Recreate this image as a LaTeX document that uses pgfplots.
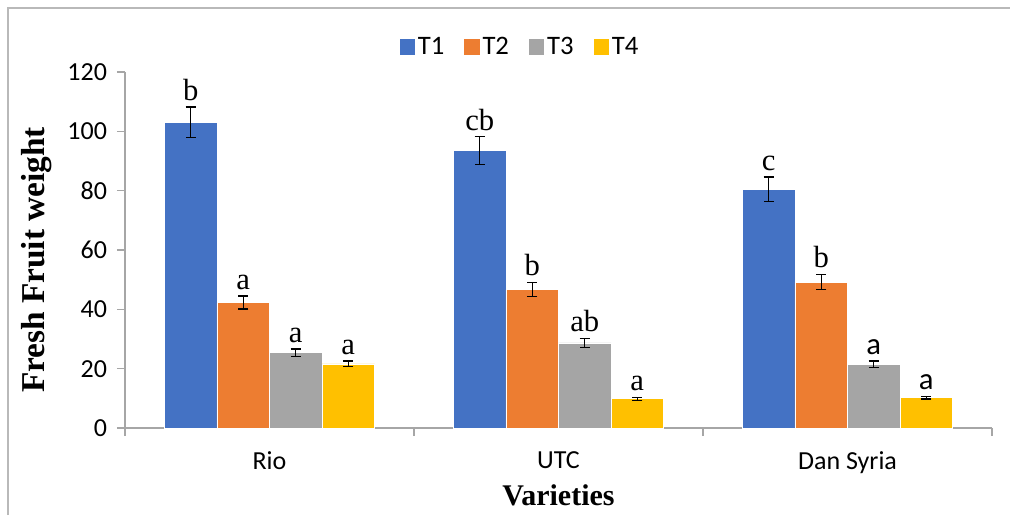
\documentclass[border=0pt]{standalone}
\usepackage{fontspec}
\setmainfont{Carlito}
\newfontfamily\tnr{Liberation Serif}
\newfontfamily\carlito{Carlito}
\usepackage{pgfplots}
\usepackage{pgfplotstable}
\pgfplotsset{compat=1.18}
\definecolor{cT1}{HTML}{4472C4}
\definecolor{cT2}{HTML}{ED7D31}
\definecolor{cT3}{HTML}{A5A5A5}
\definecolor{cT4}{HTML}{FFC000}
\definecolor{axgray}{HTML}{A6A6A6}
\newcommand{\sa}{{\carlito a}}
\pgfplotstableread{
x y err lab
0 103.0 5.2 b
1 93.5 4.7 cb
2 80.5 4.1 c
}\tA
\pgfplotstableread{
x y err lab
0 42.3 2.2 a
1 46.7 2.35 b
2 49.2 2.5 b
}\tB
\pgfplotstableread{
x y err lab
0 25.4 1.25 a
1 28.7 1.5 ab
2 21.5 1.1 \sa
}\tC
\pgfplotstableread{
x y err lab
0 21.6 1.0 a
1 9.9 0.5 a
2 10.2 0.45 \sa
}\tD
\pgfplotsset{
  mybar/.style={fill=#1, draw=white, line width=0.4pt,
    error bars/.cd, y dir=both, y explicit,
    error bar style={black, line width=0.9pt},
    error mark options={rotate=90, mark size=3.8pt, line width=0.9pt, black},
  },
  mylab/.style={forget plot, draw=none, fill=none, bar shift=#1,
    point meta=explicit symbolic, nodes near coords,
    nodes near coords style={anchor=base, yshift=5pt, font=\tnr\fontsize{23}{24}\selectfont, black, inner sep=0pt}},
}
\begin{document}
\begin{tikzpicture}
\useasboundingbox (0,0) rectangle (757.5pt,386.25pt);
\draw[gray!55, line width=0.8pt] (6pt,0pt) -- (6pt,380.25pt) -- (757.5pt,380.25pt);
\begin{axis}[
  at={(93.75pt,65.25pt)}, anchor=south west,
  scale only axis, width=650.25pt, height=267pt,
  ybar=0pt, bar width=0.1817,
  xmin=-0.5, xmax=2.5, ymin=0, ymax=120,
  axis x line=bottom, axis y line=left,
  axis line style={axgray, line width=0.8pt, -},
  xtick={0,1,2}, xticklabels={Rio,UTC,Dan Syria},
  major x tick style={draw=none},
  minor xtick={-0.5,0.5,1.5,2.5},
  minor x tick style={axgray, line width=0.8pt},
  minor tick length=6pt,
  ytick={0,20,...,120},
  y tick style={axgray, line width=0.8pt},
  major tick length=6pt,
  tick align=outside,
  tick label style={font=\fontsize{19.5}{21}\selectfont},
  /pgf/number format/assume math mode=true,
  xticklabel style={yshift=-8pt},
  yticklabel style={xshift=-4pt},
  xlabel={\tnr\bfseries Varieties},
  ylabel={\tnr\bfseries Fresh Fruit weight},
  xlabel style={at={(axis description cs:0.5,-0.188)}, anchor=center, font=\fontsize{22.5}{24}\selectfont},
  ylabel style={at={(axis description cs:-0.1015,0.472)}, anchor=center, rotate=0, font=\fontsize{25}{26}\selectfont},
  legend style={at={(rel axis cs:0.456,1.07)}, anchor=center, draw=none,
    legend columns=4, font=\fontsize{20}{22}\selectfont,
    /tikz/every even column/.append style={column sep=13pt}},
  legend image code/.code={\path[#1,draw=none] (0pt,-5.8pt) rectangle (11.6pt,5.8pt);},
]
\addplot[mybar=cT1] table[x=x, y=y, y error=err] {\tA};
\addplot[mybar=cT2] table[x=x, y=y, y error=err] {\tB};
\addplot[mybar=cT3] table[x=x, y=y, y error=err] {\tC};
\addplot[mybar=cT4] table[x=x, y=y, y error=err] {\tD};
\legend{T1,T2,T3,T4}
\addplot[mylab=-0.27255] table[x=x, y expr=\thisrow{y}+\thisrow{err}, meta=lab] {\tA};
\addplot[mylab=-0.09085] table[x=x, y expr=\thisrow{y}+\thisrow{err}, meta=lab] {\tB};
\addplot[mylab=0.09085] table[x=x, y expr=\thisrow{y}+\thisrow{err}, meta=lab] {\tC};
\addplot[mylab=0.27255] table[x=x, y expr=\thisrow{y}+\thisrow{err}, meta=lab] {\tD};
\end{axis}
\end{tikzpicture}
\end{document}
